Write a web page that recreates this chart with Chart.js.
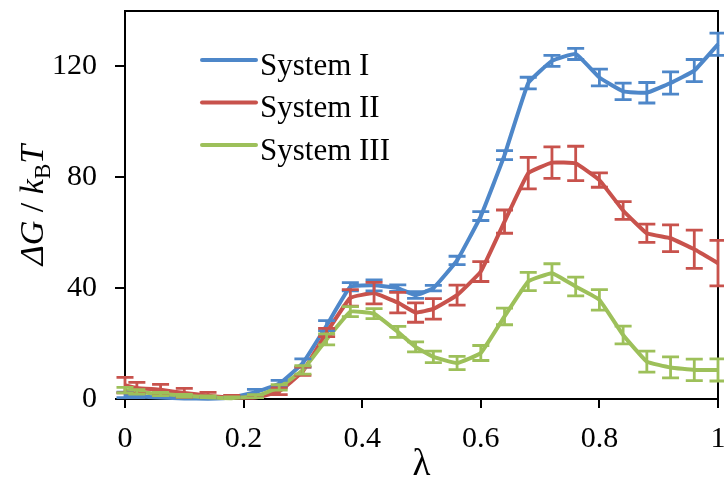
<!DOCTYPE html>
<html><head><meta charset="utf-8">
<script src="https://cdn.jsdelivr.net/npm/chart.js@4.4.1/dist/chart.umd.min.js"></script>
<style>html,body{margin:0;padding:0;background:#fff;}canvas{display:block;}</style>
</head><body>
<canvas id="c" width="724" height="481"></canvas>
<script>
// ---- data ----
const lambda = [0, 0.02, 0.06, 0.10, 0.14, 0.18, 0.22, 0.26, 0.30, 0.34, 0.38, 0.42, 0.46, 0.49, 0.52, 0.56, 0.60, 0.64, 0.68, 0.72, 0.76, 0.80, 0.84, 0.88, 0.92, 0.96, 1.00];
const systemI    = [1.5, 1.0, 0.5, 0.2, 0.1, 0.5, 2.5, 5.5, 13, 26.5, 40.5, 41, 40, 37.5, 40, 50, 66, 88, 114, 122, 124.5, 116, 111, 110.5, 114, 118.5, 128];
const systemIErr = [1, 0.8, 0.5, 0.5, 0.5, 0.5, 1, 1.2, 1.5, 1.8, 1.5, 2, 1.2, 1.2, 1, 1.5, 1.6, 1.6, 2.1, 2, 2, 3, 3, 3.7, 4, 4, 4];
const systemII    = [5, 4, 3.3, 2.2, 1.2, 0.5, 0.5, 2.8, 10, 24, 36.5, 38.2, 34.8, 31.2, 32.5, 37.5, 46, 64, 81.5, 85.3, 85, 79, 68, 59.8, 58, 54, 49];
const systemIIErr = [2.8, 2, 2, 1.6, 1.2, 0.8, 0.8, 1.2, 1.5, 1.5, 3, 3.9, 3.7, 3.5, 3.7, 3.6, 3.6, 4.2, 5.7, 5.7, 6.2, 2.6, 3.2, 3.3, 4.8, 6.9, 8.2];
const systemIII    = [3.2, 2.6, 1.8, 1.2, 0.6, 0.3, 1.0, 4.2, 10.5, 21.5, 31.5, 30.8, 24.2, 18.8, 15.2, 13, 16.6, 29.8, 42.4, 45.4, 40.6, 35.8, 23.1, 13.5, 11.4, 10.5, 10.5];
const systemIIIErr = [1, 0.8, 0.6, 0.5, 0.5, 0.5, 0.6, 1, 1.5, 2, 1.8, 1.8, 2, 1.8, 2.1, 2.4, 2.7, 3, 3.3, 3.4, 3.4, 3.7, 3.2, 3.8, 3.8, 3.9, 4];
const seriesLabels = ['System I', 'System II', 'System III'];
const xTickLabels = ['0', '0.2', '0.4', '0.6', '0.8', '1'];
const yTickValues = [0, 40, 80, 120];
const yTickLabels = ['0', '40', '80', '120'];
const xTitle = 'λ';
// y title pieces: text, style
const yTitleText = ['ΔG', ' / ', 'k', 'B', 'T'];
const yTitleStyle = ['italic', 'normal', 'italic', 'sub', 'italic'];

// ---- styles ----
const colors = ['#4E87C9', '#C8524C', '#9DC05A'];
const FONT = '"Liberation Serif", "Times New Roman", serif';

const toPts = (ys) => lambda.map((x, i) => ({x: x, y: ys[i]}));
const seriesValues = [systemI, systemII, systemIII];
const seriesErrors = [systemIErr, systemIIErr, systemIIIErr];

const datasets = seriesValues.map((vals, k) => ({
  label: seriesLabels[k],
  data: toPts(vals),
  errors: seriesErrors[k],
  borderColor: colors[k],
  backgroundColor: colors[k],
  borderWidth: 4,
  pointRadius: 0,
  pointHoverRadius: 0,
  showLine: true,
  tension: 0.1,
  borderJoinStyle: 'round',
  fill: false,
  order: 2 - k,
  clip: false
}));

const framePlugin = {
  id: 'frame',
  beforeDatasetsDraw(chart) {
    const {ctx, chartArea: a} = chart;
    ctx.save();
    ctx.strokeStyle = '#000';
    ctx.lineWidth = 2;
    ctx.beginPath();
    ctx.moveTo(a.left, a.top);
    ctx.lineTo(a.right, a.top);
    ctx.lineTo(a.right, a.bottom);
    ctx.stroke();
    ctx.restore();
  }
};

const errorBarPlugin = {
  id: 'errorBars',
  afterDatasetsDraw(chart) {
    const {ctx, chartArea: a} = chart;
    const xs = chart.scales.x, ys = chart.scales.y;
    ctx.save();
    ctx.beginPath();
    ctx.rect(0, 0, chart.width, a.bottom);
    ctx.clip();
    chart.data.datasets.forEach((ds) => {
      ctx.strokeStyle = ds.borderColor;
      ctx.lineWidth = 2.8;
      ds.data.forEach((p, i) => {
        const e = ds.errors[i];
        const x = xs.getPixelForValue(p.x);
        const y1 = ys.getPixelForValue(p.y + e);
        const y2 = ys.getPixelForValue(p.y - e);
        const cw = 8.5;
        ctx.beginPath();
        ctx.moveTo(x, y1); ctx.lineTo(x, y2);
        ctx.moveTo(x - cw, y1); ctx.lineTo(x + cw, y1);
        ctx.moveTo(x - cw, y2); ctx.lineTo(x + cw, y2);
        ctx.stroke();
      });
    });
    ctx.restore();
  }
};

const legendPlugin = {
  id: 'insideLegend',
  afterDraw(chart) {
    const {ctx, chartArea: a} = chart;
    ctx.save();
    chart.data.datasets.forEach((ds, i) => {
      const y = a.top + 49 + i * 42.5;
      const x0 = a.left + 77;
      ctx.strokeStyle = ds.borderColor;
      ctx.lineWidth = 4;
      ctx.lineCap = 'round';
      ctx.beginPath();
      ctx.moveTo(x0, y);
      ctx.lineTo(x0 + 54, y);
      ctx.stroke();
      ctx.fillStyle = '#000';
      ctx.font = '31px ' + FONT;
      ctx.textBaseline = 'alphabetic';
      ctx.textAlign = 'left';
      ctx.fillText(ds.label, x0 + 58, y + 14.5);
    });
    ctx.restore();
  }
};

const yTitlePlugin = {
  id: 'yTitle',
  afterDraw(chart) {
    const {ctx, chartArea: a} = chart;
    const size = 34;
    const fontFor = (st) => st === 'italic' ? 'italic ' + size + 'px ' + FONT
                        : st === 'sub' ? Math.round(size * 0.68) + 'px ' + FONT
                        : size + 'px ' + FONT;
    let total = 0;
    const widths = yTitleText.map((t, i) => { ctx.font = fontFor(yTitleStyle[i]); const w = ctx.measureText(t).width; total += w; return w; });
    ctx.save();
    ctx.translate(43, (a.top + a.bottom) / 2);
    ctx.rotate(-Math.PI / 2);
    ctx.fillStyle = '#000';
    ctx.textBaseline = 'alphabetic';
    ctx.textAlign = 'left';
    let x = -total / 2;
    yTitleText.forEach((t, i) => {
      ctx.font = fontFor(yTitleStyle[i]);
      const dy = yTitleStyle[i] === 'sub' ? 7 : 0;
      ctx.fillText(t, x, dy);
      x += widths[i];
    });
    ctx.restore();
  }
};

new Chart(document.getElementById('c'), {
  type: 'scatter',
  data: {datasets: datasets},
  options: {
    responsive: false,
    animation: false,
    events: [],
    layout: {padding: {left: 0, right: 6, top: 11, bottom: 0}},
    plugins: {legend: {display: false}, tooltip: {enabled: false}},
    scales: {
      x: {
        type: 'linear', min: 0, max: 1,
        ticks: {
          stepSize: 0.2, color: '#000', padding: 13,
          font: {family: FONT, size: 30},
          maxRotation: 0,
          callback: (v, i) => xTickLabels[i]
        },
        grid: {drawOnChartArea: false, drawTicks: true, tickLength: 9, color: '#000', lineWidth: 2},
        border: {display: true, color: '#000', width: 2},
        title: {display: true, text: xTitle, color: '#000', font: {family: FONT, size: 37, lineHeight: 1.1}, padding: {top: 0, bottom: -5}},
        afterFit: (s) => { s.height = 82; s.paddingLeft = 0; s.paddingRight = 0; }
      },
      y: {
        type: 'linear', min: 0, max: 140,
        afterBuildTicks: (s) => { s.ticks = yTickValues.map(v => ({value: v})); },
        ticks: {
          color: '#000', padding: 18,
          font: {family: FONT, size: 30},
          callback: (v, i) => yTickLabels[i]
        },
        grid: {drawOnChartArea: false, drawTicks: true, tickLength: 10, color: '#000', lineWidth: 2},
        border: {display: true, color: '#000', width: 2},
        title: {display: false},
        afterFit: (s) => { s.width = 125; s.paddingTop = 0; s.paddingBottom = 0; }
      }
    }
  },
  plugins: [framePlugin, errorBarPlugin, legendPlugin, yTitlePlugin]
});
</script>
</body></html>
